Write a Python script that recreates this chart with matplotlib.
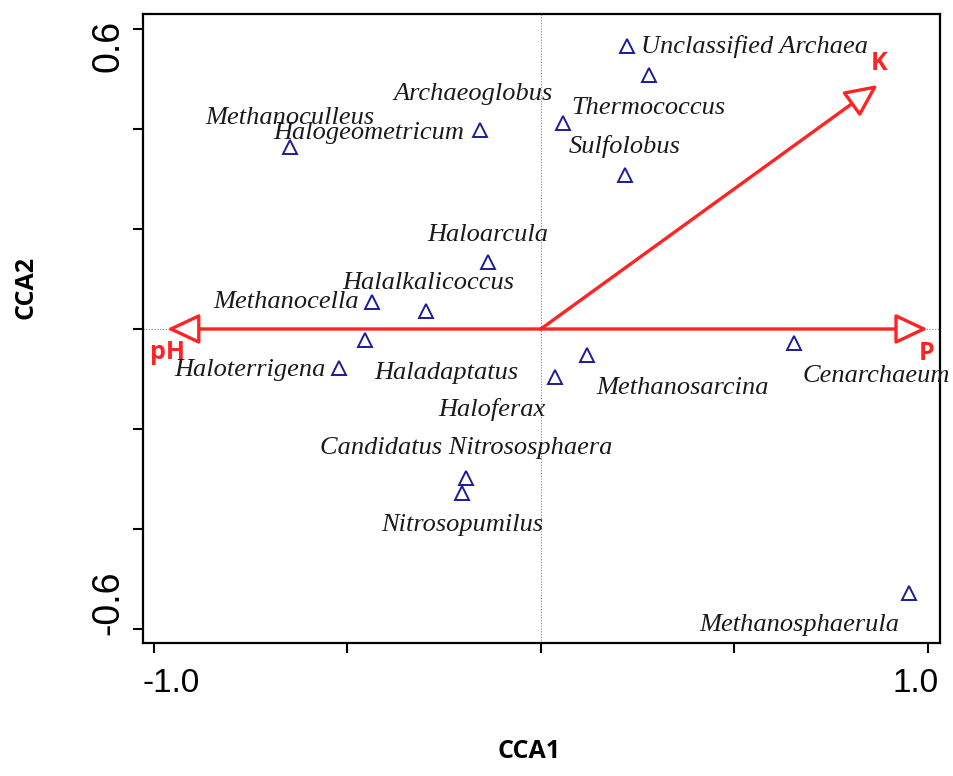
import matplotlib
matplotlib.use("Agg")
import matplotlib.pyplot as plt
from matplotlib.transforms import ScaledTranslation

# ---- data ----
species = ["Methanoculleus", "Halogeometricum", "Archaeoglobus", "Unclassified Archaea",
           "Thermococcus", "Sulfolobus", "Haloarcula", "Halalkalicoccus", "Methanocella",
           "Haladaptatus", "Haloterrigena", "Candidatus Nitrososphaera", "Nitrosopumilus",
           "Haloferax", "Methanosarcina", "Cenarchaeum", "Methanosphaerula"]
cca1 = [-0.649, -0.158, 0.057, 0.222, 0.279, 0.217, -0.137, -0.297, -0.437,
        -0.455, -0.522, -0.194, -0.204, 0.036, 0.119, 0.654, 0.951]
cca2 = [0.364, 0.398, 0.412, 0.566, 0.508, 0.308, 0.134, 0.036, 0.054,
        -0.022, -0.078, -0.298, -0.328, -0.096, -0.052, -0.028, -0.528]
# label anchor positions (data units, text centre)
label_x = [-0.649, -0.444, -0.176, 0.553, 0.279, 0.217, -0.137, -0.292, -0.659,
           -0.245, -0.752, -0.194, -0.204, -0.127, 0.367, 0.868, 0.667]
label_y = [0.422, 0.392, 0.470, 0.564, 0.442, 0.364, 0.188, 0.092, 0.054,
           -0.088, -0.082, -0.238, -0.392, -0.162, -0.118, -0.094, -0.592]

env_names = ["pH", "K", "P"]
env_x = [-0.966, 0.871, 1.0]
env_y = [0.0, 0.488, 0.0]
env_label_x = [-0.966, 0.873, 0.998]
env_label_y = [-0.048, 0.530, -0.050]

xticks = [-1.0, -0.5, 0.0, 0.5, 1.0]
xticklabels = ["-1.0", "", "", "", "1.0"]
yticks = [-0.6, -0.4, -0.2, 0.0, 0.2, 0.4, 0.6]
yticklabels = ["-0.6", "", "", "", "", "", "0.6"]

fig = plt.figure(figsize=(9.54, 7.76), dpi=100)
ax = fig.add_axes([0.150, 0.1714, 0.835, 0.8106])
ax.set_xlim(-1.028, 1.031)
ax.set_ylim(-0.628, 0.630)

ax.axhline(0, color="#888888", lw=0.8, ls=(0, (1, 1.5)), zorder=1)
ax.axvline(0, color="#888888", lw=0.8, ls=(0, (1, 1.5)), zorder=1)

red = "#ff2424"
for n, x, y, lx, ly in zip(env_names, env_x, env_y, env_label_x, env_label_y):
    ax.annotate("", xy=(x, y), xytext=(0, 0),
                arrowprops=dict(arrowstyle="-|>,head_length=1.0,head_width=0.47",
                                mutation_scale=20, ec=red, fc="white", lw=2.4,
                                shrinkA=0, shrinkB=0), zorder=3)
    ax.text(lx, ly, n, color=red, fontsize=18, fontweight="bold",
            family="Open Sans", ha="center", va="center", zorder=4)

ax.plot(cca1, cca2, ls="none", marker="^", ms=10.5, mfc="none", mec="#1c1c96",
        mew=1.4, zorder=5)

for s, lx, ly in zip(species, label_x, label_y):
    ax.text(lx, ly, s, fontsize=19, style="italic", family="Liberation Serif",
            color="#1a1a1a", ha="center", va="center", zorder=6, clip_on=False)

ax.set_xticks(xticks)
ax.set_xticklabels(xticklabels, family="Liberation Sans", fontsize=24)
ax.set_yticks(yticks)
ax.set_yticklabels(yticklabels, family="Liberation Sans", fontsize=27,
                   rotation=90, va="center")
ax.tick_params(direction="out", length=7, width=1.5)
ax.tick_params(axis="x", pad=11)
ax.tick_params(axis="y", pad=5)
for sp in ax.spines.values():
    sp.set_linewidth(1.6)

# R-style inward nudge of the end tick labels
xl = ax.get_xticklabels()
xl[0].set_transform(xl[0].get_transform() + ScaledTranslation(0.17, 0, fig.dpi_scale_trans))
xl[-1].set_transform(xl[-1].get_transform() + ScaledTranslation(-0.12, 0, fig.dpi_scale_trans))
yl = ax.get_yticklabels()
yl[0].set_transform(yl[0].get_transform() + ScaledTranslation(0, 0.26, fig.dpi_scale_trans))
yl[-1].set_transform(yl[-1].get_transform() + ScaledTranslation(0, -0.17, fig.dpi_scale_trans))

fig.text(0.5545, 0.031, "CCA1", ha="center", va="center", fontsize=18,
         fontweight="bold", family="Open Sans")
fig.text(0.027, 0.629, "CCA2", ha="center", va="center", rotation=90,
         fontsize=18, fontweight="bold", family="Open Sans")

fig.savefig("out.png", dpi=100)
